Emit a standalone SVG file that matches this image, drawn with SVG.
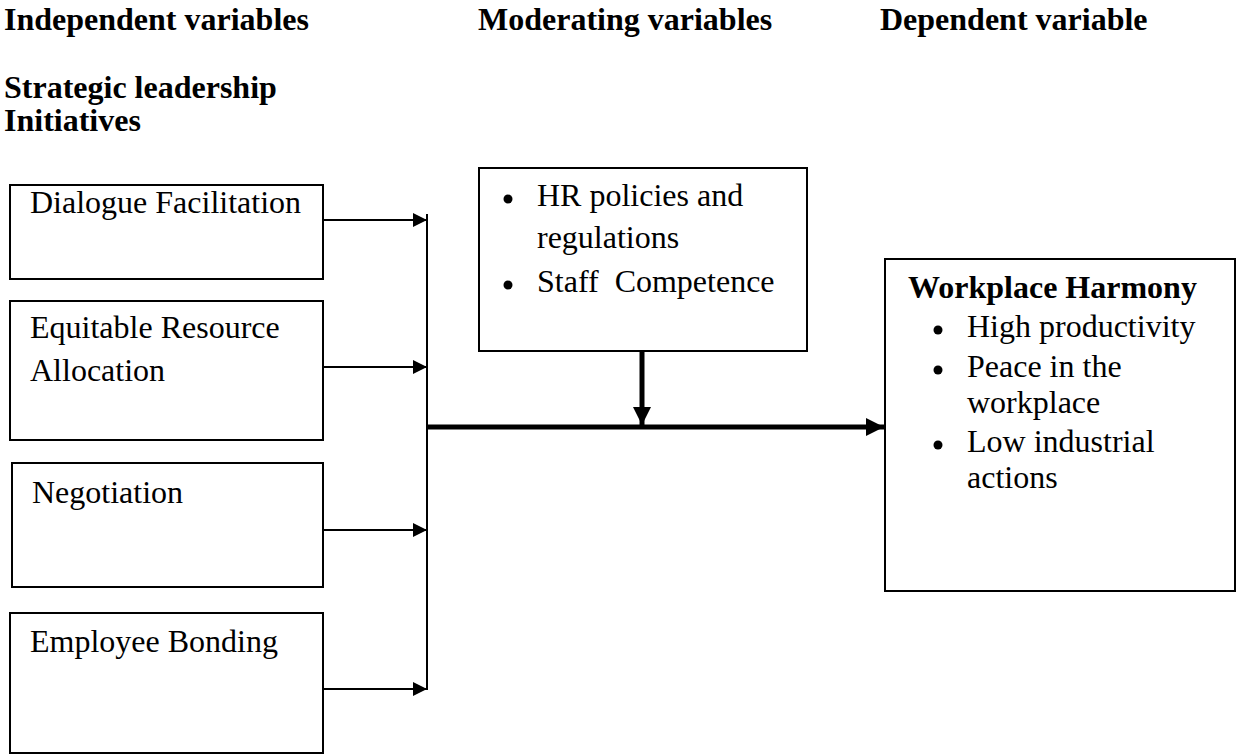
<svg xmlns="http://www.w3.org/2000/svg" width="1238" height="755" viewBox="0 0 1238 755">
<style>
text{font-family:"Liberation Serif","Times New Roman",serif;fill:#000}
.h{font-size:32px;font-weight:bold}
.t{font-size:32px}
.box{fill:#fff;stroke:#000;stroke-width:2}
.thin{stroke:#000;stroke-width:2;fill:none}
.thick{stroke:#000;stroke-width:5;fill:none}
</style>
<defs>
<marker id="ah" viewBox="0 0 10 10" refX="10" refY="5" markerWidth="17" markerHeight="14" markerUnits="userSpaceOnUse" orient="auto"><path d="M0,0L10,5L0,10z" fill="#000"/></marker>
<marker id="ahk" viewBox="0 0 10 10" refX="10" refY="5" markerWidth="18" markerHeight="18" markerUnits="userSpaceOnUse" orient="auto"><path d="M0,0L10,5L0,10z" fill="#000"/></marker>
</defs>
<g id="headers">
<text class="h" x="4" y="30">Independent variables</text>
<text class="h" x="478" y="30">Moderating variables</text>
<text class="h" x="880" y="30">Dependent variable</text>
<text class="h" x="4" y="98">Strategic leadership</text>
<text class="h" x="4" y="131">Initiatives</text>
</g>
<g id="n1"><rect class="box" x="10" y="185" width="313" height="94"/><text class="t" x="30" y="213">Dialogue Facilitation</text></g>
<g id="n2"><rect class="box" x="10" y="301" width="313" height="139"/><text class="t" x="30" y="338">Equitable Resource</text><text class="t" x="30" y="381">Allocation</text></g>
<g id="n3"><rect class="box" x="12" y="463" width="311" height="124"/><text class="t" x="32" y="503">Negotiation</text></g>
<g id="n4"><rect class="box" x="10" y="613" width="313" height="140"/><text class="t" x="30" y="652">Employee Bonding</text></g>
<g id="mod"><rect class="box" x="479" y="168" width="328" height="183"/>
<circle cx="508" cy="199" r="4.5"/><text class="t" x="537" y="206">HR policies and</text>
<text class="t" x="537" y="248">regulations</text>
<circle cx="508" cy="285" r="4.5"/><text class="t" x="537" y="292" xml:space="preserve">Staff  Competence</text></g>
<g id="dep"><rect class="box" x="885" y="259" width="350" height="332"/>
<text class="h" x="908" y="298">Workplace Harmony</text>
<circle cx="938" cy="330" r="4.5"/><text class="t" x="967" y="337">High productivity</text>
<circle cx="938" cy="370" r="4.5"/><text class="t" x="967" y="377">Peace in the</text>
<text class="t" x="967" y="413">workplace</text>
<circle cx="938" cy="445" r="4.5"/><text class="t" x="967" y="452">Low industrial</text>
<text class="t" x="967" y="488">actions</text></g>
<g id="connectors">
<line class="thin" x1="323" y1="220" x2="427" y2="220" marker-end="url(#ah)"/>
<line class="thin" x1="323" y1="367" x2="427" y2="367" marker-end="url(#ah)"/>
<line class="thin" x1="323" y1="530" x2="427" y2="530" marker-end="url(#ah)"/>
<line class="thin" x1="323" y1="689" x2="427" y2="689" marker-end="url(#ah)"/>
<line class="thin" x1="427" y1="214" x2="427" y2="690"/>
<line class="thick" x1="427" y1="427" x2="884" y2="427" marker-end="url(#ahk)"/>
<line class="thick" x1="642" y1="351" x2="642" y2="425" marker-end="url(#ahk)"/>
</g>
</svg>
